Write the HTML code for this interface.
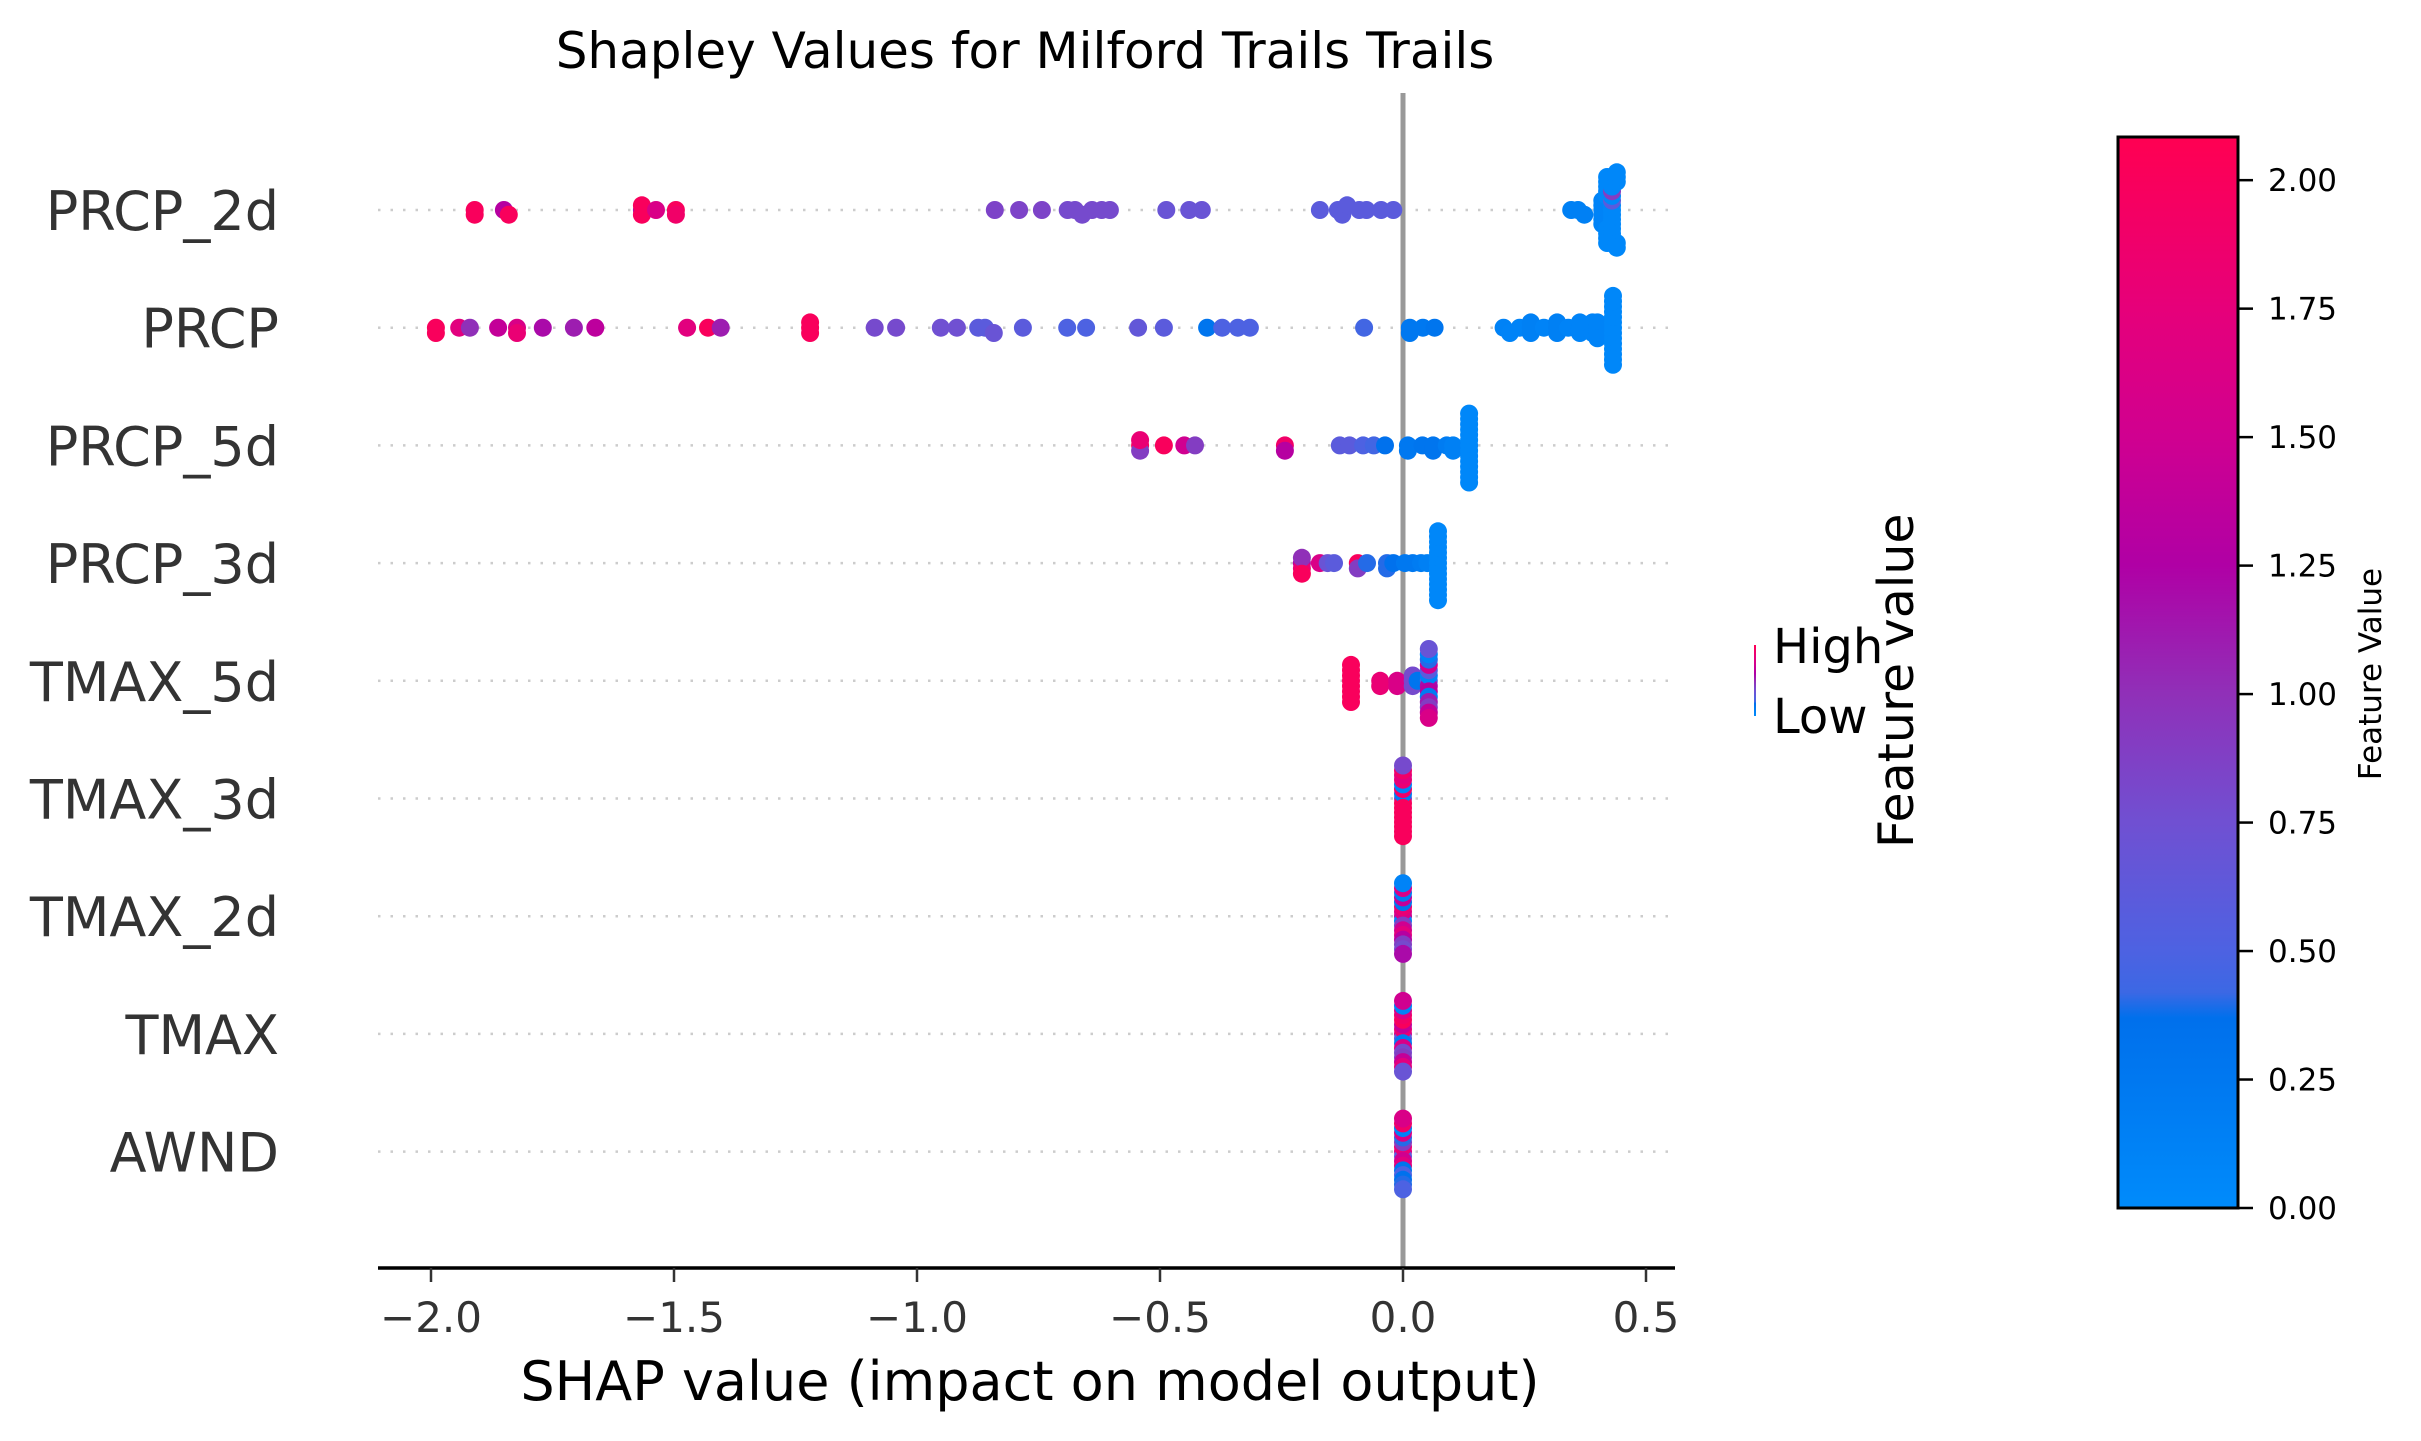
<!DOCTYPE html>
<html><head><meta charset="utf-8"><style>
html,body{margin:0;padding:0;background:#fff;}
svg{display:block;font-family:"DejaVu Sans","Liberation Sans",sans-serif;}
</style></head><body>
<svg id="chart" width="2421" height="1441" viewBox="0 0 2421 1441" xmlns="http://www.w3.org/2000/svg">
<defs>
<linearGradient id="cbgrad" x1="0" y1="1" x2="0" y2="0"></linearGradient>
<linearGradient id="leggrad" x1="0" y1="1" x2="0" y2="0"></linearGradient>
</defs>
<text x="1025" y="68" font-size="50" text-anchor="middle" fill="#000">Shapley Values for Milford Trails Trails</text>
<g id="grid"></g>
<line x1="1403" y1="93" x2="1403" y2="1268" stroke="#999" stroke-width="5"/>
<g id="dots"></g>
<g id="labels"></g>
<line x1="378" y1="1268" x2="1675" y2="1268" stroke="#000" stroke-width="3.5"/>
<g id="xticks"></g>
<text x="1030" y="1400" font-size="54" text-anchor="middle" fill="#000">SHAP value (impact on model output)</text>
<g>
<rect x="1754" y="645" width="2" height="71" fill="url(#leggrad)"/>
<text x="1773" y="663" font-size="48" fill="#000">High</text>
<text x="1773" y="733" font-size="48" fill="#000">Low</text>
<text transform="translate(1913,848) rotate(-90)" font-size="49" fill="#000">Feature value</text>
</g>
<g id="colorbar">
<rect x="2118" y="137" width="120" height="1071" fill="url(#cbgrad)" stroke="#000" stroke-width="3"/>
</g>
<text transform="translate(2381,674) rotate(-90)" font-size="31" text-anchor="middle" fill="#000">Feature Value</text>
</svg>
<script>
const features = ["PRCP_2d","PRCP","PRCP_5d","PRCP_3d","TMAX_5d","TMAX_3d","TMAX_2d","TMAX","AWND"];
const xTicks = [-2.0,-1.5,-1.0,-0.5,0.0,0.5];
const xTickLabels = ["\u22122.0","\u22121.5","\u22121.0","\u22120.5","0.0","0.5"];
const cbTicks = [0,0.25,0.5,0.75,1.0,1.25,1.5,1.75,2.0];
const cbTickLabels = ["0.00","0.25","0.50","0.75","1.00","1.25","1.50","1.75","2.00"];
const cbMin = 0, cbMax = 2.084;
const shapPRCP2d = [-1.91,-1.91,-1.85,-1.84,-1.566,-1.566,-1.566,-1.537,-1.496,-1.496,-0.84,-0.79,-0.743,-0.69,-0.675,-0.66,-0.64,-0.62,-0.603,-0.487,-0.44,-0.414,-0.171,-0.134,-0.125,-0.115,-0.09,-0.075,-0.045,-0.02,0.346,0.36,0.373,0.41,0.41,0.41,0.41,0.41,0.41,0.42,0.42,0.42,0.42,0.42,0.42,0.42,0.42,0.42,0.43,0.43,0.43,0.43,0.43,0.43,0.43,0.43,0.43,0.43,0.43,0.43,0.44,0.44,0.44,0.44,0.44];
const fvPRCP2d   = [2.0,2.0,1.3,2.0,1.2,2.0,2.0,1.6,2.0,1.9,0.85,0.85,0.85,0.8,0.8,0.8,0.8,0.8,0.8,0.7,0.7,0.7,0.6,0.6,0.6,0.6,0.6,0.6,0.6,0.6,0.15,0.15,0.15,0.1,0.1,0.1,0.1,0.1,0.1,0.05,0.05,0.05,0.05,0.05,0.05,0.05,0.05,0.05,0.05,0.05,0.05,0.05,0.6,0.05,0.05,0.05,0.9,0.05,0.05,0.05,0.05,0.05,0.05,0.05,0.05];
const shapPRCP = [-1.99,-1.99,-1.942,-1.92,-1.862,-1.823,-1.823,-1.77,-1.706,-1.662,-1.473,-1.43,-1.404,-1.22,-1.22,-1.22,-1.087,-1.043,-0.951,-0.918,-0.874,-0.86,-0.842,-0.782,-0.691,-0.652,-0.545,-0.492,-0.403,-0.372,-0.34,-0.315,-0.08,0.014,0.014,0.041,0.065,0.207,0.22,0.24,0.263,0.263,0.263,0.29,0.317,0.317,0.317,0.34,0.364,0.364,0.364,0.39,0.39,0.39,0.40,0.40,0.40,0.40,0.432,0.432,0.432,0.432,0.432,0.432,0.432,0.432,0.432,0.432,0.432,0.432,0.432,0.432];
const fvPRCP   = [2.0,2.0,1.7,1.0,1.4,1.6,1.8,1.2,1.1,1.35,1.7,2.0,1.1,2.0,2.0,2.0,0.8,0.8,0.75,0.75,0.6,0.6,0.7,0.6,0.5,0.5,0.65,0.6,0.3,0.5,0.5,0.5,0.45,0.25,0.25,0.25,0.3,0.12,0.1,0.1,0.15,0.15,0.15,0.1,0.15,0.15,0.15,0.1,0.1,0.1,0.1,0.1,0.1,0.1,0.1,0.1,0.1,0.1,0.05,0.05,0.05,0.05,0.05,0.05,0.05,0.05,0.05,0.05,0.05,0.05,0.05,0.05];
const shapPRCP5d = [-0.541,-0.541,-0.541,-0.492,-0.45,-0.428,-0.243,-0.243,-0.13,-0.11,-0.082,-0.06,-0.037,0.01,0.01,0.04,0.062,0.062,0.09,0.103,0.103,0.136,0.136,0.136,0.136,0.136,0.136,0.136,0.136,0.136,0.136,0.136,0.136,0.136,0.136];
const fvPRCP5d   = [2.0,0.9,1.8,2.0,1.5,0.9,1.9,1.3,0.6,0.6,0.5,0.45,0.35,0.25,0.25,0.3,0.3,0.3,0.2,0.15,0.15,0.05,0.05,0.05,0.05,0.05,0.05,0.05,0.05,0.05,0.05,0.05,0.05,0.05,0.05];
const shapPRCP3d = [-0.208,-0.208,-0.208,-0.208,-0.171,-0.155,-0.142,-0.093,-0.093,-0.074,-0.033,-0.033,-0.02,0.004,0.02,0.037,0.05,0.072,0.072,0.072,0.072,0.072,0.072,0.072,0.072,0.072,0.072,0.072,0.072,0.072,0.072];
const fvPRCP3d   = [1.3,1.8,1.0,2.0,1.6,0.7,0.6,2.0,0.9,0.4,0.4,0.4,0.35,0.25,0.25,0.2,0.15,0.05,0.05,0.05,0.05,0.05,0.05,0.05,0.05,0.05,0.05,0.05,0.05,0.05,0.05];
const shapTMAX5d = [-0.107,-0.107,-0.107,-0.107,-0.107,-0.107,-0.107,-0.107,-0.047,-0.047,-0.012,-0.012,0.02,0.02,0.02,0.03,0.053,0.053,0.053,0.053,0.053,0.053,0.053,0.053,0.053,0.053,0.053,0.053,0.053,0.053];
const fvTMAX5d   = [2.0,2.0,2.0,2.0,2.0,2.0,2.0,2.0,1.8,1.8,1.6,1.6,0.8,0.8,0.8,0.3,0.5,1.2,0.1,1.3,0.6,0.2,1.5,1.1,0.4,0.9,0.1,1.4,0.7,1.6];
const shapTMAX3d = [0,0,0,0,0,0,0,0,0,0,0,0,0,0,0,0];
const fvTMAX3d   = [0.9,2.0,0.2,2.0,1.9,2.0,0.1,2.0,1.8,2.0,1.7,2.0,1.9,2.0,0.8,2.0];
const shapTMAX2d = [0,0,0,0,0,0,0,0,0,0,0,0,0,0,0,0];
const fvTMAX2d   = [1.4,0.1,1.6,0.9,1.8,1.5,0.3,1.7,1.4,1.3,0.2,0.9,1.6,0.8,0.1,1.2];
const shapTMAX = [0,0,0,0,0,0,0,0,0,0,0,0,0,0,0,0];
const fvTMAX   = [1.5,0.6,1.8,0.2,1.4,1.6,2.0,0.8,1.9,0.9,1.6,1.4,0.1,1.7,1.5,0.7];
const shapAWND = [0,0,0,0,0,0,0,0,0,0,0,0,0,0,0,0];
const fvAWND   = [1.6,0.6,1.8,1.5,0.9,1.7,0.4,0.3,1.6,0.5,0.1,0.35,1.9,0.4,1.6,0.5];

const shapByFeature = [shapPRCP2d,shapPRCP,shapPRCP5d,shapPRCP3d,shapTMAX5d,shapTMAX3d,shapTMAX2d,shapTMAX,shapAWND];
const fvByFeature = [fvPRCP2d,fvPRCP,fvPRCP5d,fvPRCP3d,fvTMAX5d,fvTMAX3d,fvTMAX2d,fvTMAX,fvAWND];

const NS = "http://www.w3.org/2000/svg";
const X0 = 1403, PXU = 486;
function xScale(v){ return X0 + v*PXU; }
const ROW0 = 210, ROWSTEP = 117.7;
function yRow(i){ return ROW0 + i*ROWSTEP; }
function cbY(v){ return 1208 - (v-cbMin)/(cbMax-cbMin)*1071; }

const cmStops = [[0,[0,139,251]],[0.25,[0,120,240]],[0.37,[0,112,236]],[0.42,[60,104,228]],[0.5,[77,98,226]],[0.75,[112,80,210]],[1.0,[144,48,184]],[1.25,[176,0,165]],[1.5,[208,0,144]],[1.75,[230,0,122]],[2.084,[255,0,82]]];
function cmap(v){
  if(v<=cmStops[0][0]) return rgb(cmStops[0][1]);
  for(let i=1;i<cmStops.length;i++){
    if(v<=cmStops[i][0]){
      const a=cmStops[i-1], b=cmStops[i], t=(v-a[0])/(b[0]-a[0]);
      return rgb(a[1].map((c,k)=>c+(b[1][k]-c)*t));
    }
  }
  return rgb(cmStops[cmStops.length-1][1]);
}
function rgb(c){ return "rgb("+c.map(x=>Math.round(x)).join(",")+")"; }

["cbgrad","leggrad"].forEach(id=>{
  const g=document.getElementById(id);
  cmStops.forEach(s=>{
    const st=document.createElementNS(NS,"stop");
    st.setAttribute("offset",(s[0]/cbMax*100).toFixed(2)+"%");
    st.setAttribute("stop-color",rgb(s[1]));
    g.appendChild(st);
  });
});

const grid=document.getElementById("grid"), dots=document.getElementById("dots"), labels=document.getElementById("labels");
features.forEach((f,i)=>{
  const y=yRow(i);
  const gl=document.createElementNS(NS,"line");
  
  
  gl.setAttribute("x1",378); gl.setAttribute("x2",1675); gl.setAttribute("y1",y); gl.setAttribute("y2",y);
  gl.setAttribute("stroke","#ccc"); gl.setAttribute("stroke-width","2.5"); gl.setAttribute("stroke-dasharray","2.5 10");
  grid.appendChild(gl);
  const t=document.createElementNS(NS,"text");
  
  
  t.setAttribute("x",279); t.setAttribute("y",y+20); t.setAttribute("text-anchor","end");
  t.setAttribute("font-size","54"); t.setAttribute("fill","#333");
  t.textContent=f; labels.appendChild(t);

  const sv=shapByFeature[i], fv=fvByFeature[i];
  const n=sv.length, nbins=100;
  let mn=Math.min(...sv), mx=Math.max(...sv);
  const quant=sv.map(v=> mx>mn ? Math.round(nbins*(v-mn)/(mx-mn)) : 0);
  const idx=[...Array(n).keys()].sort((a,b)=>quant[a]-quant[b] || a-b);
  const ys=new Array(n).fill(0);
  let layer=0, last=-1;
  idx.forEach(k=>{
    if(quant[k]!==last){layer=0;}
    ys[k]=Math.ceil(layer/2)*((layer%2)*2-1);
    layer++; last=quant[k];
  });
  const maxy=Math.max(...ys.map(v=>v+1));
  const scale=0.9*0.4/maxy*ROWSTEP;
  for(let k=0;k<n;k++){
    const c=document.createElementNS(NS,"circle");
    
    
    c.setAttribute("cx",xScale(sv[k]).toFixed(1));
    c.setAttribute("cy",(y+ys[k]*scale).toFixed(1));
    c.setAttribute("r","9");
    c.setAttribute("fill",cmap(fv[k]));
    dots.appendChild(c);
  }
});

const xt=document.getElementById("xticks");
xTicks.forEach((v,i)=>{
  const x=xScale(v);
  const l=document.createElementNS(NS,"line");
  
  
  l.setAttribute("x1",x); l.setAttribute("x2",x); l.setAttribute("y1",1268); l.setAttribute("y2",1282);
  l.setAttribute("stroke","#333"); l.setAttribute("stroke-width","2.5");
  xt.appendChild(l);
  const t=document.createElementNS(NS,"text");
  
  
  t.setAttribute("x",x); t.setAttribute("y",1332); t.setAttribute("text-anchor","middle");
  t.setAttribute("font-size","42"); t.setAttribute("fill","#333");
  t.textContent=xTickLabels[i]; xt.appendChild(t);
});

const cb=document.getElementById("colorbar");
cbTicks.forEach((v,i)=>{
  const y=cbY(v);
  const l=document.createElementNS(NS,"line");
  
  
  l.setAttribute("x1",2239); l.setAttribute("x2",2253); l.setAttribute("y1",y); l.setAttribute("y2",y);
  l.setAttribute("stroke","#000"); l.setAttribute("stroke-width","2.5");
  cb.appendChild(l);
  const t=document.createElementNS(NS,"text");
  
  
  t.setAttribute("x",2268); t.setAttribute("y",y+11);
  t.setAttribute("font-size","31"); t.setAttribute("fill","#000");
  t.textContent=cbTickLabels[i]; cb.appendChild(t);
});
</script>
</body></html>
